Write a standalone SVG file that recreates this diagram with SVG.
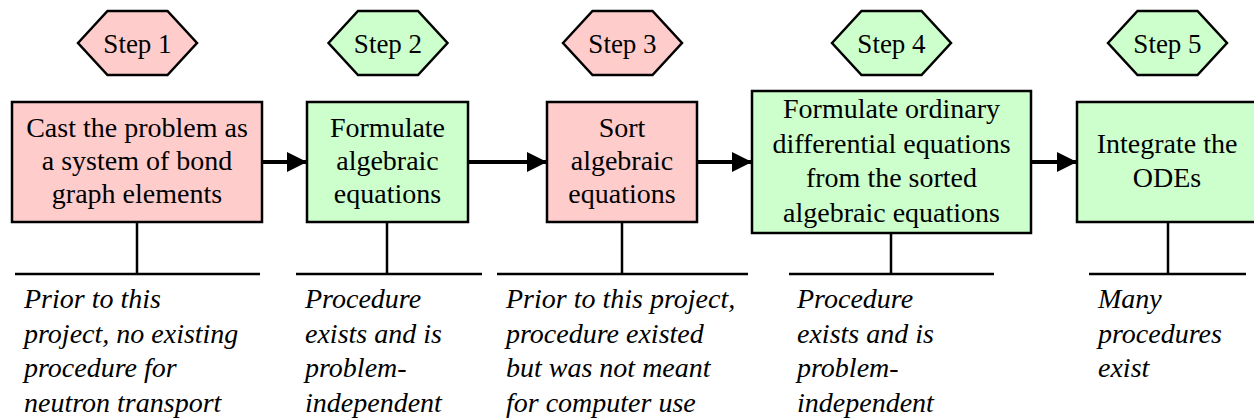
<svg xmlns="http://www.w3.org/2000/svg" width="1254" height="419" viewBox="0 0 1254 419">
  <defs>
    <style>
      .pink { fill: #FFCCCC; }
      .green { fill: #CCFFCC; }
      .shape { stroke: #000; stroke-width: 2.5; stroke-linejoin: miter; }
      text { font-family: 'Liberation Serif', 'Times New Roman', serif; fill: #000; }
      .label { font-size: 28px; text-anchor: middle; }
      .step { font-size: 27px; text-anchor: middle; }
      .note { font-size: 28px; font-style: italic; }
      .stem { stroke: #000; stroke-width: 2.5; fill: none; }
      .flow { stroke: #000; stroke-width: 4; fill: none; }
    </style>
    <marker id="arrowhead" markerUnits="userSpaceOnUse" markerWidth="20" markerHeight="20" refX="20" refY="10" orient="auto">
      <path d="M0,0 L20,10 L0,20 Z" fill="#000"/>
    </marker>
    <!-- step badge, centred on its origin -->
    <polygon id="hex" points="-59.5,0 -30,-32 30,-32 59.5,0 30,32 -30,32"/>
  </defs>

  <rect width="1254" height="419" fill="#fff"/>

  <!-- Step badges -->
  <g id="step1">
    <use href="#hex" x="137.5" y="43" class="pink shape"/>
    <text class="step" x="137.5" y="53">Step 1</text>
  </g>
  <g id="step2">
    <use href="#hex" x="388" y="43" class="green shape"/>
    <text class="step" x="388" y="53">Step 2</text>
  </g>
  <g id="step3">
    <use href="#hex" x="622.5" y="43" class="pink shape"/>
    <text class="step" x="622.5" y="53">Step 3</text>
  </g>
  <g id="step4">
    <use href="#hex" x="891.5" y="43" class="green shape"/>
    <text class="step" x="891.5" y="53">Step 4</text>
  </g>
  <g id="step5">
    <use href="#hex" x="1167.5" y="43" class="green shape"/>
    <text class="step" x="1167.5" y="53">Step 5</text>
  </g>

  <!-- Process boxes -->
  <g id="box1">
    <rect x="12" y="102" width="250" height="120" class="pink shape"/>
    <text class="label" x="137" y="137">Cast the problem as</text>
    <text class="label" x="137" y="170">a system of bond</text>
    <text class="label" x="137" y="203">graph elements</text>
  </g>
  <g id="box2">
    <rect x="307" y="102" width="161" height="120" class="green shape"/>
    <text class="label" x="387.5" y="137">Formulate</text>
    <text class="label" x="387.5" y="170">algebraic</text>
    <text class="label" x="387.5" y="203">equations</text>
  </g>
  <g id="box3">
    <rect x="547" y="102" width="150" height="120" class="pink shape"/>
    <text class="label" x="622" y="137">Sort</text>
    <text class="label" x="622" y="170">algebraic</text>
    <text class="label" x="622" y="203">equations</text>
  </g>
  <g id="box4">
    <rect x="752" y="91" width="279" height="142" class="green shape"/>
    <text class="label" x="891.5" y="118">Formulate ordinary</text>
    <text class="label" x="891.5" y="152.5">differential equations</text>
    <text class="label" x="891.5" y="187">from the sorted</text>
    <text class="label" x="891.5" y="221.5">algebraic equations</text>
  </g>
  <g id="box5">
    <rect x="1077" y="102" width="190" height="120" class="green shape"/>
    <text class="label" x="1167" y="153">Integrate the</text>
    <text class="label" x="1167" y="187">ODEs</text>
  </g>

  <!-- Connectors: flow arrows and annotation stems -->
  <g id="connectors">
    <line class="flow" x1="262" y1="162" x2="307" y2="162" marker-end="url(#arrowhead)"/>
    <line class="flow" x1="468" y1="162" x2="547" y2="162" marker-end="url(#arrowhead)"/>
    <line class="flow" x1="697" y1="162" x2="752" y2="162" marker-end="url(#arrowhead)"/>
    <line class="flow" x1="1031" y1="162" x2="1077" y2="162" marker-end="url(#arrowhead)"/>

    <path class="stem" d="M137,222 V274 M15,274 H260"/>
    <path class="stem" d="M387,222 V274 M296,274 H482"/>
    <path class="stem" d="M622,222 V274 M497,274 H748"/>
    <path class="stem" d="M891,233 V274 M789,274 H994"/>
    <path class="stem" d="M1168,222 V274 M1089,274 H1246"/>
  </g>

  <!-- Annotations -->
  <g id="note1">
    <text class="note" x="24" y="308">Prior to this</text>
    <text class="note" x="24" y="343">project, no existing</text>
    <text class="note" x="24" y="377">procedure for</text>
    <text class="note" x="24" y="412">neutron transport</text>
  </g>
  <g id="note2">
    <text class="note" x="305" y="308">Procedure</text>
    <text class="note" x="305" y="343">exists and is</text>
    <text class="note" x="305" y="377">problem-</text>
    <text class="note" x="305" y="412">independent</text>
  </g>
  <g id="note3">
    <text class="note" x="506" y="308">Prior to this project,</text>
    <text class="note" x="506" y="343">procedure existed</text>
    <text class="note" x="506" y="377">but was not meant</text>
    <text class="note" x="506" y="412">for computer use</text>
  </g>
  <g id="note4">
    <text class="note" x="797" y="308">Procedure</text>
    <text class="note" x="797" y="343">exists and is</text>
    <text class="note" x="797" y="377">problem-</text>
    <text class="note" x="797" y="412">independent</text>
  </g>
  <g id="note5">
    <text class="note" x="1098" y="308">Many</text>
    <text class="note" x="1098" y="343">procedures</text>
    <text class="note" x="1098" y="377">exist</text>
  </g>
</svg>
